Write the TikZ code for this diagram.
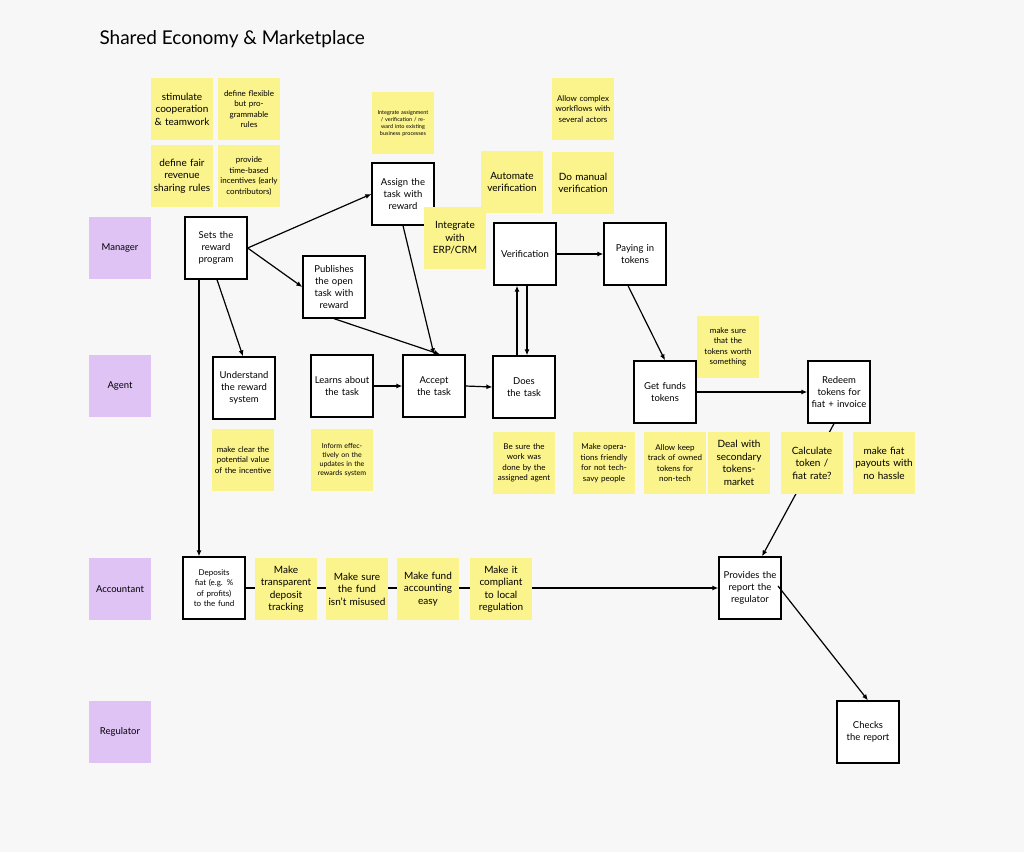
\documentclass[tikz,border=0pt]{standalone}
\usepackage{fontspec}
\setmainfont{Lato}
\usetikzlibrary{arrows.meta}
\definecolor{bg}{HTML}{F7F7F7}
\definecolor{sty}{HTML}{FBF38C}
\definecolor{lane}{HTML}{DFC3F5}
\begin{document}
\begin{tikzpicture}[x=1pt,y=-1pt,
  box/.style={draw=black,line width=1.3pt,fill=white,minimum width=62pt,minimum height=62pt,text width=56pt,align=center,font=\fontsize{9.5}{12}\selectfont,inner sep=2pt},
  st/.style={fill=sty,minimum width=62pt,minimum height=62pt,text width=58pt,align=center,inner sep=1pt,font=\fontsize{10}{12.5}\selectfont},
  sts/.style={st,font=\fontsize{8}{10.5}\selectfont},
  ln/.style={fill=lane,minimum width=62pt,minimum height=62pt,font=\fontsize{9.5}{12}\selectfont},
  ar/.style={-{Latex[length=6pt,width=5pt]},line width=1.2pt}]
\fill[bg] (0,0) rectangle (1024,852);
\useasboundingbox (0,0) rectangle (1024,852);
\node[anchor=west,font=\fontsize{19}{22}\selectfont] (title) at (96,39) {Shared Economy \& Marketplace};
\node[ln] (l1) at (120,248) {Manager};
\node[ln] (l2) at (120,386) {Agent};
\node[ln] (l3) at (120,589) {Accountant};
\node[ln] (l4) at (120,732) {Regulator};
\node[box] (b1) at (216,248) {Sets the reward program};
\node[box] (b2) at (403,194) {Assign the task with reward};
\node[box] (b3) at (334,287) {Publishes the open task with reward};
\node[box] (b4) at (525,254) {Verification};
\node[box] (b5) at (635,254) {Paying in tokens};
\node[box] (b6) at (244,388) {Understand the reward system};
\node[box] (b7) at (342,386) {Learns about the task};
\node[box] (b8) at (434,386) {Accept the task};
\node[box] (b9) at (524,387) {Does the task};
\node[box] (b10) at (665,392) {Get funds tokens};
\node[box] (b11) at (839,392) {Redeem tokens for fiat + invoice};
\node[box,font=\fontsize{8}{10.5}\selectfont] (b12) at (214,588) {Deposits fiat (e.g. \% of profits) to the fund};
\node[box] (b13) at (750,588) {Provides the report the regulator};
\node[box] (b14) at (868,732) {Checks the report};
\draw[ar] (b1.east) -- (b2.west);
\draw[ar] (b1.east) -- (b3.west);
\draw[ar] ([xshift=1pt]b1.south) -- ([xshift=-1pt]b6.north);
\draw[ar] ([xshift=-17pt]b1.south) -- ([xshift=-15pt]b12.north);
\draw[ar] (b3.south) -- ([xshift=6pt]b8.north);
\draw[ar] (b2.south) -- (b8.north);
\draw[ar] (b7.east) -- (b8.west);
\draw[ar] (b8.east) -- (b9.west);
\draw[ar] ([xshift=-7pt]b9.north) -- ([xshift=-8pt]b4.south);
\draw[ar] ([xshift=2pt]b4.south) -- ([xshift=3pt]b9.north);
\draw[ar] (b4.east) -- (b5.west);
\draw[ar] ([xshift=-7pt]b5.south) -- (b10.north);
\draw[ar] (b10.east) -- (b11.west);
\draw[ar] ([xshift=-5pt]b11.south) -- ([xshift=12pt]b13.north);
\draw[ar] (b12.east) -- (b13.west);
\draw[ar] ([xshift=28pt,yshift=2pt]b13.center) -- (b14.north);
\node[st] (s1) at (182,109) {stimulate cooperation \& teamwork};
\node[sts] (s2) at (249,109) {define flexible but programmable rules};
\node[st] (s3) at (182,176) {define fair revenue sharing rules};
\node[sts] (s4) at (249,176) {provide time-based incentives (early contributors)};
\node[st,font=\fontsize{5.5}{7}\selectfont] (s5) at (403,123) {Integrate assignment / verification / reward into existing business processes};
\node[sts] (s6) at (583,109) {Allow complex workflows with several actors};
\node[st] (s7) at (512,182) {Automate verification};
\node[st] (s8) at (583,183) {Do manual verification};
\node[st] (s9) at (455,238) {Integrate with ERP/CRM};
\node[sts] (s10) at (728,347) {make sure that the tokens worth something};
\node[sts] (s11) at (243,460) {make clear the potential value of the incentive};
\node[sts,font=\fontsize{7}{9}\selectfont] (s12) at (342,460) {Inform effectively on the updates in the rewards system};
\node[sts] (s13) at (524,463) {Be sure the work was done by the assigned agent};
\node[sts] (s14) at (604,463) {Make operations friendly for not tech-savy people};
\node[sts] (s15) at (675,463) {Allow keep track of owned tokens for non-tech};
\node[st] (s16) at (739,463) {Deal with secondary tokens-market};
\node[st] (s17) at (812,463) {Calculate token / fiat rate?};
\node[st] (s18) at (884,463) {make fiat payouts with no hassle};
\node[st] (s19) at (286,589) {Make transparent deposit tracking};
\node[st] (s20) at (357,589) {Make sure the fund isn't misused};
\node[st] (s21) at (428,589) {Make fund accounting easy};
\node[st] (s22) at (501,589) {Make it compliant to local regulation};
\end{tikzpicture}
\end{document}
